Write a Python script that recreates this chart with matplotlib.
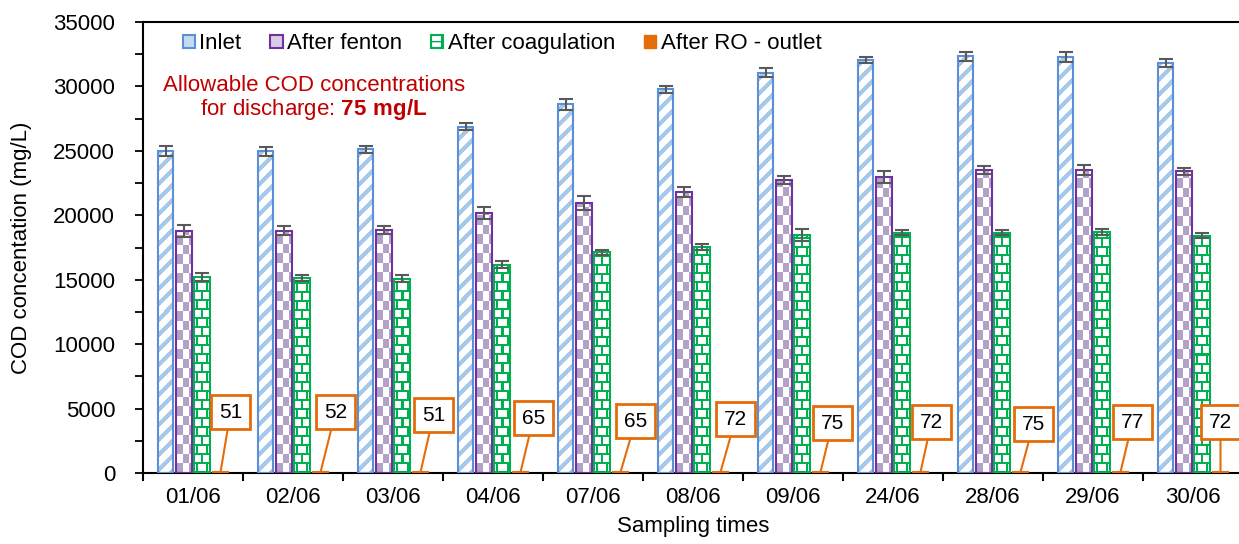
import numpy as np
import matplotlib
matplotlib.use("Agg")
import matplotlib.pyplot as plt
from matplotlib.patches import Patch

plt.rcParams['font.family'] = ['Liberation Sans', 'DejaVu Sans']
plt.rcParams['font.size'] = 16
plt.rcParams['mathtext.fontset'] = 'custom'
plt.rcParams['mathtext.rm'] = 'Liberation Sans'
plt.rcParams['mathtext.bf'] = 'Liberation Sans:bold'

# data
dates = ['01/06', '02/06', '03/06', '04/06', '07/06', '08/06',
         '09/06', '24/06', '28/06', '29/06', '30/06']
inlet = [25010, 24960, 25140, 26870, 28610, 29770, 31070, 32050, 32360, 32300, 31800]
inlet_err = [380, 350, 270, 260, 440, 300, 350, 230, 350, 400, 300]
fenton = [18780, 18800, 18860, 20200, 20930, 21830, 22740, 22950, 23510, 23500, 23400]
fenton_err = [470, 330, 330, 480, 540, 390, 280, 450, 320, 400, 300]
coag = [15230, 15130, 15080, 16170, 17130, 17540, 18450, 18650, 18650, 18700, 18400]
coag_err = [310, 230, 270, 270, 210, 260, 470, 210, 200, 200, 200]
ro = [51, 52, 51, 65, 65, 72, 75, 72, 75, 77, 72]

# callout placement (pixels from the top of each RO bar)
call_dx = [10, 15, 13, 13, 15, 15, 12, 11, 13, 12, 0]
call_dy = [60, 60, 57, 54, 51, 53, 49, 50, 48, 50, 50]

BLUE_E, BLUE_F = '#5B8FD6', '#A6C8EA'
PURP_E, PURP_F = '#7030A0', '#B3A2C7'
GREEN = '#00B050'
ORANGE = '#E46C0A'

fig = plt.figure(figsize=(12.39, 5.44), dpi=100)
ax = fig.add_axes([143 / 1239, 71 / 544, 1100 / 1239, 451 / 544])
ax.set_xlim(-0.5, 10.5)
ax.set_ylim(0, 35000)

x = np.arange(len(dates))
w = 0.155
offs = [-0.275, -0.09, 0.09, 0.275]


def hexrgb(c):
    return np.array(matplotlib.colors.to_rgb(c))


def stripes(H, W):
    r, c = np.mgrid[0:H, 0:W]
    m = ((r - c) % 15) < 6
    img = np.ones((H, W, 3))
    img[m] = hexrgb(BLUE_F)
    return img


def checker(H, W):
    r, c = np.mgrid[0:H, 0:W]
    m = ((np.floor(r / 9.5) + np.floor(c / 6.5)) % 2) == 0
    img = np.ones((H, W, 3))
    img[m] = hexrgb(PURP_F)
    return img


def bricks(H, W):
    r, c = np.mgrid[0:H, 0:W]
    row = r // 9
    hline = (r % 9) < 2
    shift = np.where(row % 2 == 0, 0, 5)
    vline = ((c + shift - 2) % 10) < 2
    m = hline | vline
    img = np.ones((H, W, 3))
    img[m] = hexrgb(GREEN)
    return img


def fill_bars(bars, maker):
    for b in bars:
        x0, y0 = b.get_x(), b.get_y()
        x1, y1 = x0 + b.get_width(), y0 + b.get_height()
        p0 = ax.transData.transform((x0, y0))
        p1 = ax.transData.transform((x1, y1))
        W = max(int(round(p1[0] - p0[0])), 1)
        H = max(int(round(p1[1] - p0[1])), 1)
        ax.imshow(maker(H, W), extent=(x0, x1, y0, y1), origin='lower',
                  interpolation='nearest', aspect='auto', zorder=2)


b1 = ax.bar(x + offs[0], inlet, w, facecolor='none', edgecolor=BLUE_E, linewidth=1.5, zorder=3)
b2 = ax.bar(x + offs[1], fenton, w, facecolor='none', edgecolor=PURP_E, linewidth=1.5, zorder=3)
b3 = ax.bar(x + offs[2], coag, w, facecolor='none', edgecolor=GREEN, linewidth=1.5, zorder=3)
b4 = ax.bar(x + offs[3], ro, w, color=ORANGE, edgecolor=ORANGE, linewidth=1.5, zorder=3)
fill_bars(b1, stripes)
fill_bars(b2, checker)
fill_bars(b3, bricks)
ax.set_xlim(-0.5, 10.5)
ax.set_ylim(0, 35000)

for pos, vals, err in [(x + offs[0], inlet, inlet_err),
                       (x + offs[1], fenton, fenton_err),
                       (x + offs[2], coag, coag_err)]:
    ax.errorbar(pos, vals, yerr=err, fmt='none', ecolor='#595959',
                elinewidth=1.5, capsize=5, capthick=1.5, zorder=4)

for i, v in enumerate(ro):
    ax.annotate(str(v), xy=(x[i] + offs[3], v), xytext=(call_dx[i], call_dy[i]),
                textcoords='offset pixels', ha='center', va='center', fontsize=15,
                bbox=dict(boxstyle='square,pad=0.36', fc='white', ec=ORANGE, lw=2),
                arrowprops=dict(arrowstyle='-', color=ORANGE, lw=1.5,
                                shrinkA=0, shrinkB=0), zorder=5)

# axes styling
for s in ['left', 'bottom', 'top']:
    ax.spines[s].set_linewidth(1.5)
    ax.spines[s].set_color('black')
ax.spines['right'].set_visible(False)

ax.set_xticks(x)
ax.set_xticklabels(dates)
ax.set_xticks(np.arange(-0.5, 11, 1), minor=True)
ax.tick_params(axis='x', which='major', length=0, pad=10)
ax.tick_params(axis='x', which='minor', length=6, width=1.5, direction='out')
ax.set_yticks(np.arange(0, 35001, 5000))
ax.set_yticks(np.arange(0, 35001, 2500), minor=True)
ax.tick_params(axis='y', which='both', length=6, width=1.3, direction='out', pad=14)

ax.set_ylabel('COD concentation (mg/L)', labelpad=15)
ax.set_xlabel('Sampling times', labelpad=6)

handles = [Patch(facecolor='#C5DAF0', edgecolor=BLUE_E, linewidth=1.5),
           Patch(facecolor='#D9CCE8', edgecolor=PURP_E, linewidth=1.5),
           Patch(facecolor='white', edgecolor=GREEN, hatch='+', linewidth=1.5),
           Patch(facecolor=ORANGE, edgecolor=ORANGE)]
ax.legend(handles, ['Inlet', 'After fenton', 'After coagulation', 'After RO - outlet'],
          loc='upper left', bbox_to_anchor=(0.036, 0.975), ncol=4, frameon=False,
          borderpad=0, borderaxespad=0, handlelength=0.55, handleheight=0.55,
          handletextpad=0.2, columnspacing=1.3, fontsize=16)

ax.text(0.1555, 0.860, 'Allowable COD concentrations', transform=ax.transAxes,
        ha='center', va='center', color='#C00000', fontsize=16)
ax.text(0.1555, 0.805, r'for discharge: $\mathbf{75\ mg/L}$', transform=ax.transAxes,
        ha='center', va='center', color='#C00000', fontsize=16)

fig.savefig('out.png', dpi=100)
